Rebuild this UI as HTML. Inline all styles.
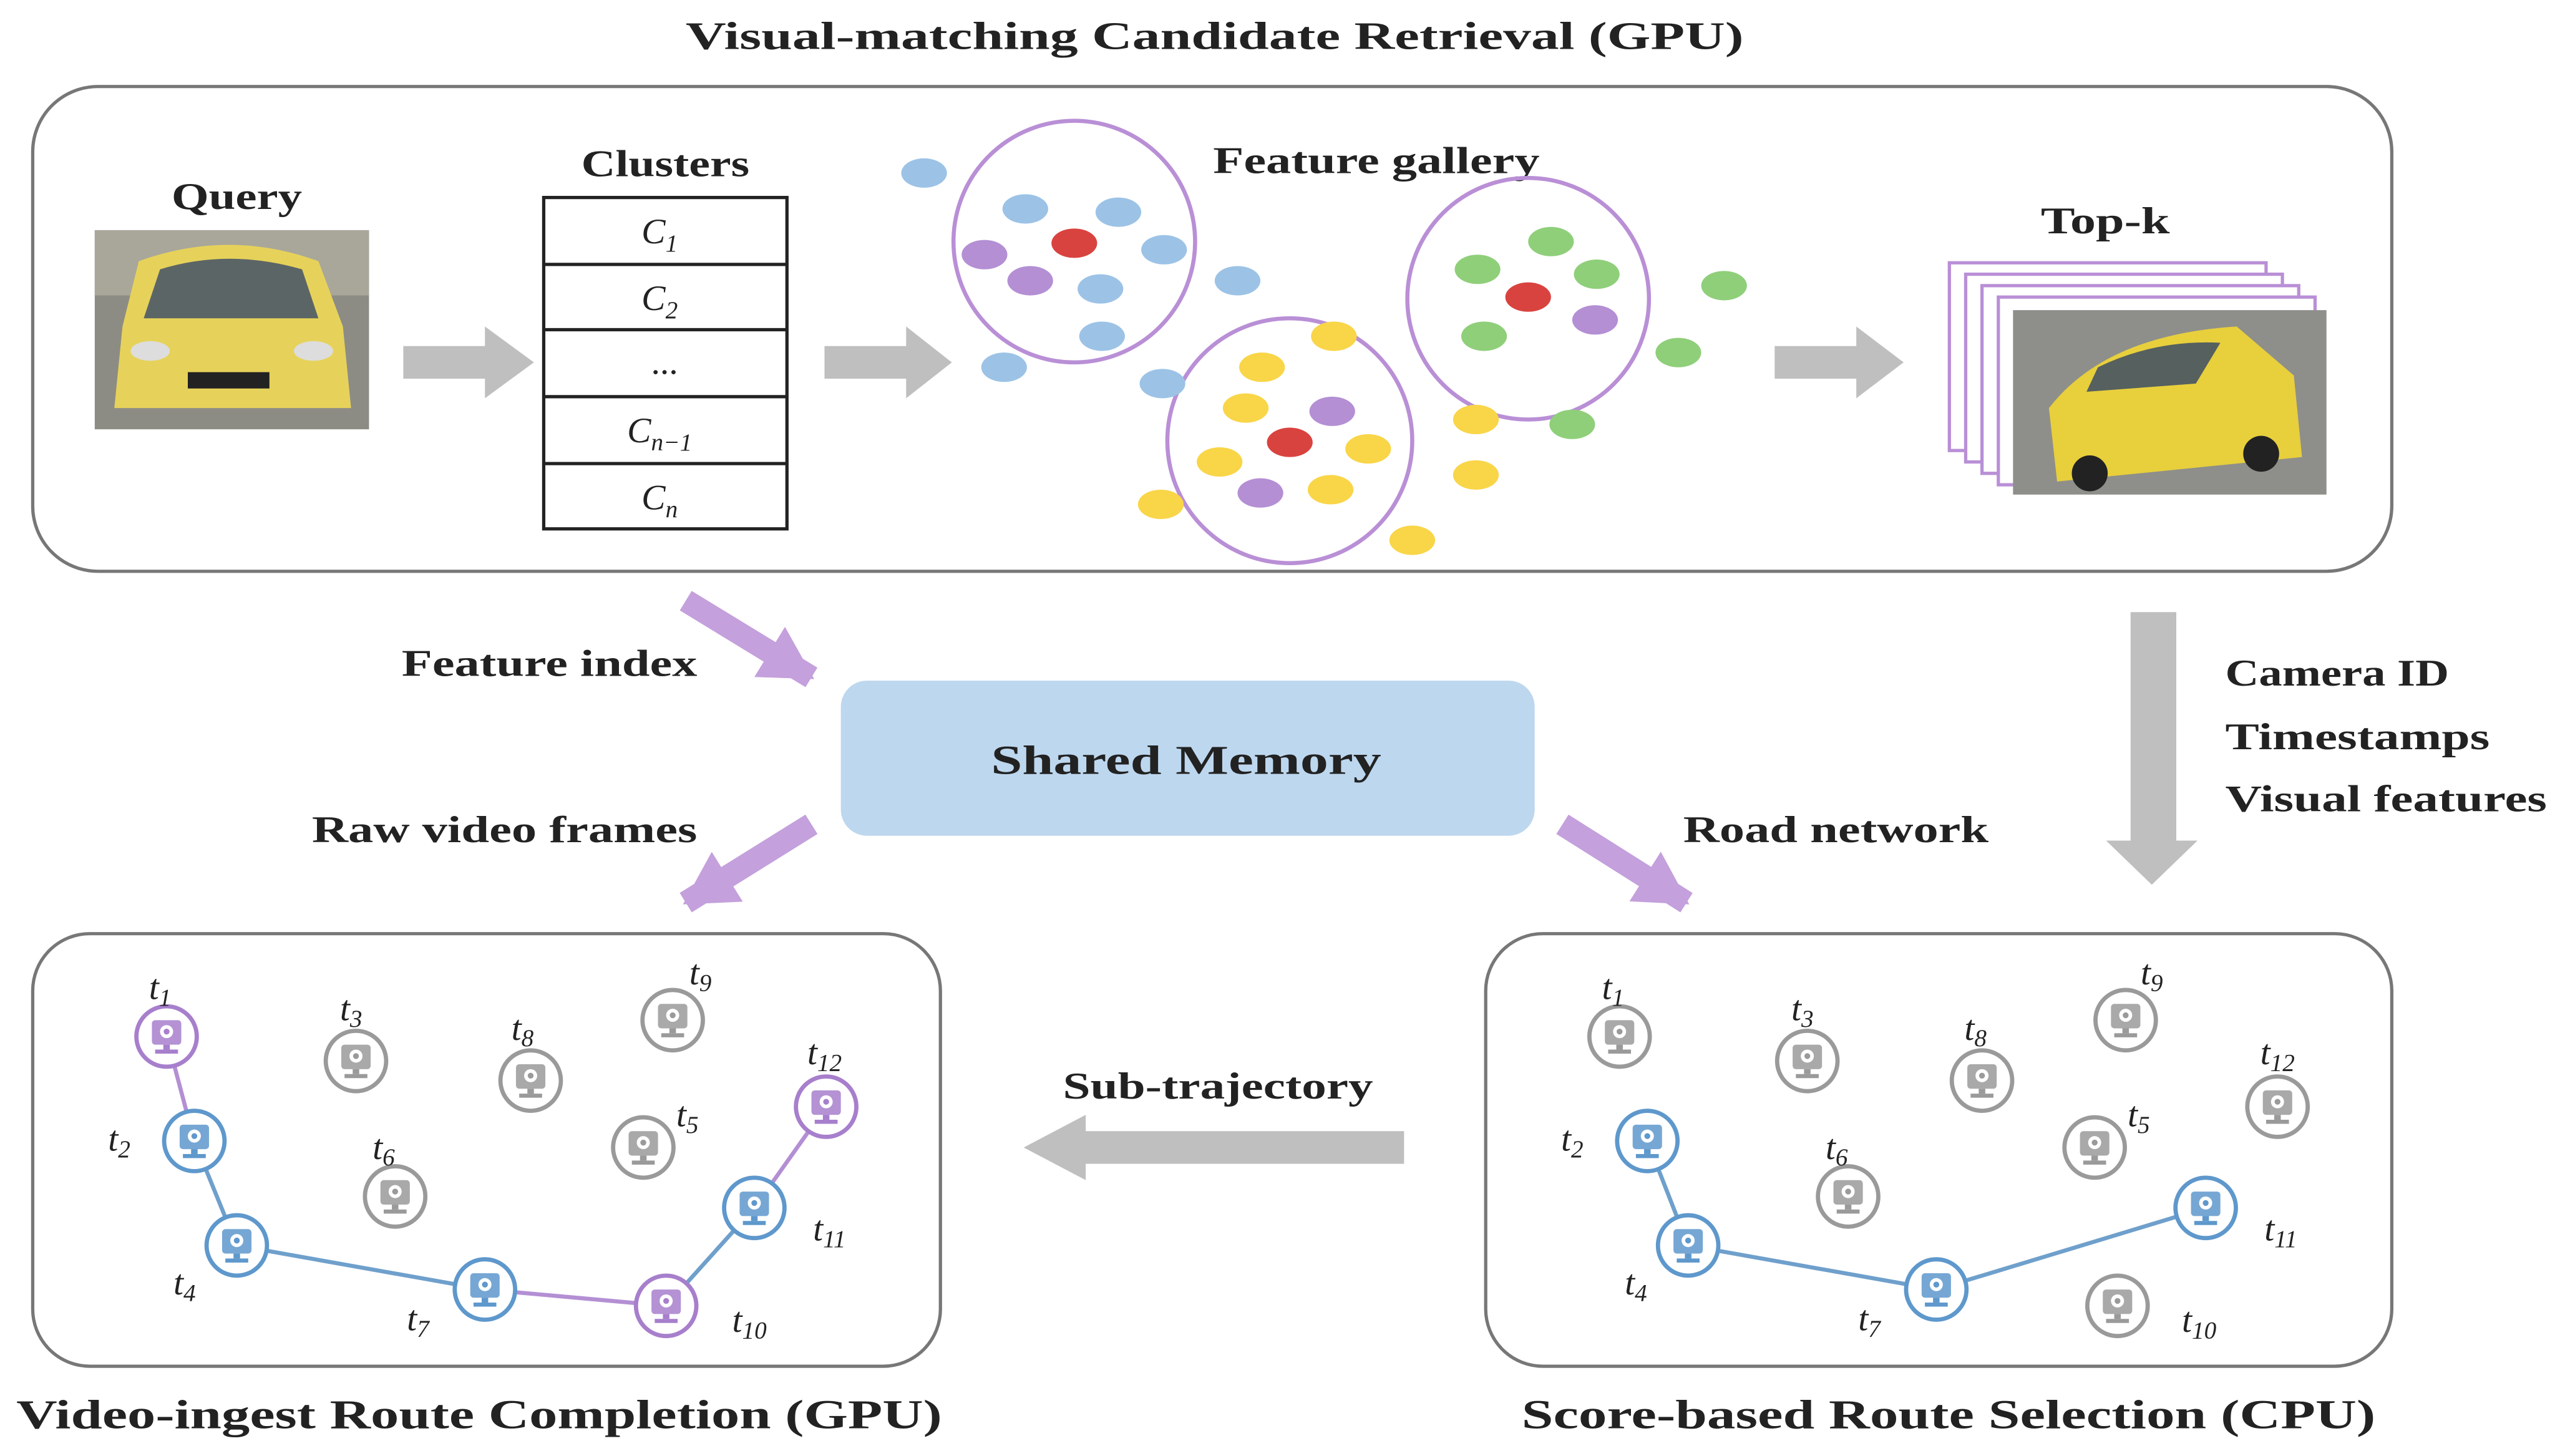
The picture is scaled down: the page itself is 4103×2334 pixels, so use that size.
<!DOCTYPE html>
<html><head><meta charset="utf-8"><style>
html,body{margin:0;padding:0;background:#fff;}
svg{display:block;}
text{font-family:"Liberation Serif",serif;}
.t{font-size:23px;font-weight:bold;fill:#222;}
.l{font-size:22px;font-style:italic;fill:#222;}
</style></head><body>
<svg width="4103" height="2334" viewBox="0 0 1568 892" xmlns="http://www.w3.org/2000/svg">
<defs>
<symbol id="cam" viewBox="-20 -20 40 40" overflow="visible">
<circle r="18.5" fill="#fff" stroke="currentColor" stroke-width="2.6"/>
<rect x="-9" y="-10" width="18" height="15" rx="2" fill="currentColor" opacity="0.85"/>
<circle cx="0" cy="-3" r="4" fill="#fff"/>
<circle cx="0" cy="-3" r="1.8" fill="currentColor"/>
<rect x="-2" y="5" width="4" height="3" fill="currentColor"/>
<rect x="-7" y="8" width="14" height="2.5" fill="currentColor"/>
</symbol>
<marker id="pa" markerUnits="userSpaceOnUse" markerWidth="40" markerHeight="40" refX="30" refY="20" orient="auto">
<path d="M0,2 L32,20 L0,38 Z" fill="#c4a0dc"/>
</marker>
</defs>

<text x="420" y="30" class="t" style="font-size:24px" textLength="648" lengthAdjust="spacingAndGlyphs">Visual-matching Candidate Retrieval (GPU)</text>
<rect x="20" y="53" width="1445" height="297" rx="40" fill="#fff" stroke="#777" stroke-width="2"/>

<text x="105" y="128" class="t" textLength="80" lengthAdjust="spacingAndGlyphs">Query</text>
<g>
<rect x="58" y="141" width="168" height="122" fill="#8d8c84"/>
<rect x="58" y="141" width="168" height="40" fill="#a9a79a"/>
<path d="M85,160 Q140,140 195,160 L210,200 L215,250 L70,250 L75,200 Z" fill="#e6d25a"/>
<path d="M98,165 Q140,152 185,165 L195,195 L88,195 Z" fill="#5c6566"/>
<rect x="115" y="228" width="50" height="10" fill="#222"/>
<ellipse cx="92" cy="215" rx="12" ry="6" fill="#ddd"/>
<ellipse cx="192" cy="215" rx="12" ry="6" fill="#ddd"/>
</g>

<polygon points="247,212 297,212 297,200 327,222 297,244 297,232 247,232" fill="#bfbfbf"/>

<text x="356" y="108" class="t" textLength="103" lengthAdjust="spacingAndGlyphs">Clusters</text>
<g fill="#fff" stroke="#222" stroke-width="2">
<rect x="333" y="121" width="149" height="203"/>
<line x1="333" y1="162" x2="482" y2="162"/>
<line x1="333" y1="202" x2="482" y2="202"/>
<line x1="333" y1="243" x2="482" y2="243"/>
<line x1="333" y1="284" x2="482" y2="284"/>
</g>
<g class="l" text-anchor="middle">
<text x="404" y="149">C<tspan font-size="15" dy="5">1</tspan></text>
<text x="404" y="190">C<tspan font-size="15" dy="5">2</tspan></text>
<text x="407" y="229" style="font-style:normal">...</text>
<text x="404" y="271">C<tspan font-size="15" dy="5">n−1</tspan></text>
<text x="404" y="312">C<tspan font-size="15" dy="5">n</tspan></text>
</g>

<polygon points="505,212 555,212 555,200 583,222 555,244 555,232 505,232" fill="#bfbfbf"/>

<text x="743" y="106" class="t" textLength="200" lengthAdjust="spacingAndGlyphs">Feature gallery</text>
<g fill="none" stroke="#b98fd6" stroke-width="2.5">
<circle cx="658" cy="148" r="74"/>
<circle cx="790" cy="270" r="75"/>
<circle cx="936" cy="183" r="74"/>
</g>
<g fill="#9cc3e6">
<ellipse cx="628" cy="128" rx="14" ry="9"/><ellipse cx="685" cy="130" rx="14" ry="9"/><ellipse cx="713" cy="153" rx="14" ry="9"/><ellipse cx="674" cy="177" rx="14" ry="9"/>
<ellipse cx="566" cy="106" rx="14" ry="9"/><ellipse cx="758" cy="172" rx="14" ry="9"/><ellipse cx="675" cy="206" rx="14" ry="9"/><ellipse cx="615" cy="225" rx="14" ry="9"/><ellipse cx="712" cy="235" rx="14" ry="9"/>
</g>
<g fill="#b48fd4">
<ellipse cx="603" cy="156" rx="14" ry="9"/><ellipse cx="631" cy="172" rx="14" ry="9"/>
<ellipse cx="816" cy="252" rx="14" ry="9"/><ellipse cx="772" cy="302" rx="14" ry="9"/><ellipse cx="977" cy="196" rx="14" ry="9"/>
</g>
<g fill="#d9433f">
<ellipse cx="658" cy="149" rx="14" ry="9"/><ellipse cx="790" cy="271" rx="14" ry="9"/><ellipse cx="936" cy="182" rx="14" ry="9"/>
</g>
<g fill="#f9d548">
<ellipse cx="773" cy="225" rx="14" ry="9"/><ellipse cx="763" cy="250" rx="14" ry="9"/><ellipse cx="838" cy="275" rx="14" ry="9"/><ellipse cx="747" cy="283" rx="14" ry="9"/><ellipse cx="815" cy="300" rx="14" ry="9"/>
<ellipse cx="817" cy="206" rx="14" ry="9"/><ellipse cx="711" cy="309" rx="14" ry="9"/><ellipse cx="865" cy="331" rx="14" ry="9"/><ellipse cx="904" cy="257" rx="14" ry="9"/><ellipse cx="904" cy="291" rx="14" ry="9"/>
</g>
<g fill="#8fcf7a">
<ellipse cx="905" cy="165" rx="14" ry="9"/><ellipse cx="950" cy="148" rx="14" ry="9"/><ellipse cx="978" cy="168" rx="14" ry="9"/><ellipse cx="909" cy="206" rx="14" ry="9"/>
<ellipse cx="1056" cy="175" rx="14" ry="9"/><ellipse cx="1028" cy="216" rx="14" ry="9"/><ellipse cx="963" cy="260" rx="14" ry="9"/>
</g>

<polygon points="1087,212 1137,212 1137,200 1166,222 1137,244 1137,232 1087,232" fill="#bfbfbf"/>

<text x="1250" y="143" class="t" textLength="79" lengthAdjust="spacingAndGlyphs">Top-k</text>
<g fill="#fff" stroke="#b98fd6" stroke-width="2">
<rect x="1194" y="161" width="194" height="115"/>
<rect x="1204" y="168" width="194" height="115"/>
<rect x="1214" y="175" width="194" height="115"/>
<rect x="1224" y="182" width="194" height="115"/>
</g>
<rect x="1233" y="190" width="192" height="113" fill="#8e8f8a"/>
<path d="M1255,250 Q1290,205 1370,200 L1405,230 L1410,280 L1260,295 Z" fill="#e8cf3c"/>
<path d="M1285,225 Q1320,208 1360,210 L1345,235 L1278,240 Z" fill="#55605f"/>
<circle cx="1280" cy="290" r="11" fill="#222"/><circle cx="1385" cy="278" r="11" fill="#222"/>

<line x1="420" y1="368" x2="497" y2="415" stroke="#c4a0dc" stroke-width="14" marker-end="url(#pa)"/>
<text x="246" y="414" class="t" textLength="181" lengthAdjust="spacingAndGlyphs">Feature index</text>

<polygon points="1305,375 1333,375 1333,515 1346,515 1318,542 1290,515 1305,515" fill="#bfbfbf"/>
<text x="1363" y="420" class="t" textLength="137" lengthAdjust="spacingAndGlyphs">Camera ID</text>
<text x="1363" y="459" class="t" textLength="162" lengthAdjust="spacingAndGlyphs">Timestamps</text>
<text x="1363" y="497" class="t" textLength="197" lengthAdjust="spacingAndGlyphs">Visual features</text>

<rect x="515" y="417" width="425" height="95" rx="16" fill="#bdd7ee"/>
<text x="607" y="474" class="t" style="font-size:25px" textLength="239" lengthAdjust="spacingAndGlyphs">Shared Memory</text>

<line x1="497" y1="505" x2="420" y2="553" stroke="#c4a0dc" stroke-width="14" marker-end="url(#pa)"/>
<text x="191" y="516" class="t" textLength="236" lengthAdjust="spacingAndGlyphs">Raw video frames</text>
<line x1="957" y1="505" x2="1033" y2="553" stroke="#c4a0dc" stroke-width="14" marker-end="url(#pa)"/>
<text x="1031" y="516" class="t" textLength="187" lengthAdjust="spacingAndGlyphs">Road network</text>

<rect x="20" y="572" width="556" height="265" rx="35" fill="#fff" stroke="#777" stroke-width="2"/>
<rect x="910" y="572" width="555" height="265" rx="35" fill="#fff" stroke="#777" stroke-width="2"/>
<text x="10" y="875" class="t" style="font-size:25px" textLength="567" lengthAdjust="spacingAndGlyphs">Video-ingest Route Completion (GPU)</text>
<text x="932" y="875" class="t" style="font-size:25px" textLength="523" lengthAdjust="spacingAndGlyphs">Score-based Route Selection (CPU)</text>

<text x="651" y="673" class="t" textLength="190" lengthAdjust="spacingAndGlyphs">Sub-trajectory</text>
<polygon points="860,693 665,693 665,683 627,703 665,723 665,713 860,713" fill="#bfbfbf"/>

<g stroke-width="2.5">
<line x1="102" y1="635" x2="119" y2="699" stroke="#b48fd4"/>
<line x1="119" y1="699" x2="145" y2="763" stroke="#6fa0cc"/>
<line x1="145" y1="763" x2="297" y2="790" stroke="#6fa0cc"/>
<line x1="297" y1="790" x2="408" y2="800" stroke="#b48fd4"/>
<line x1="408" y1="800" x2="462" y2="740" stroke="#6fa0cc"/>
<line x1="462" y1="740" x2="506" y2="678" stroke="#b48fd4"/>
</g>
<g>
<use href="#cam" x="82" y="615" width="40" height="40" style="color:#a77fcc"/>
<use href="#cam" x="198" y="630" width="40" height="40" style="color:#9a9a9a"/>
<use href="#cam" x="305" y="642" width="40" height="40" style="color:#9a9a9a"/>
<use href="#cam" x="392" y="605" width="40" height="40" style="color:#9a9a9a"/>
<use href="#cam" x="486" y="658" width="40" height="40" style="color:#a77fcc"/>
<use href="#cam" x="99" y="679" width="40" height="40" style="color:#5e98cc"/>
<use href="#cam" x="222" y="713" width="40" height="40" style="color:#9a9a9a"/>
<use href="#cam" x="374" y="683" width="40" height="40" style="color:#9a9a9a"/>
<use href="#cam" x="442" y="720" width="40" height="40" style="color:#5e98cc"/>
<use href="#cam" x="125" y="743" width="40" height="40" style="color:#5e98cc"/>
<use href="#cam" x="277" y="770" width="40" height="40" style="color:#5e98cc"/>
<use href="#cam" x="388" y="780" width="40" height="40" style="color:#a77fcc"/>
</g>
<g class="l" text-anchor="middle">
<text x="98" y="612">t<tspan font-size="15" dy="4">1</tspan></text>
<text x="215" y="625">t<tspan font-size="15" dy="4">3</tspan></text>
<text x="320" y="637">t<tspan font-size="15" dy="4">8</tspan></text>
<text x="429" y="603">t<tspan font-size="15" dy="4">9</tspan></text>
<text x="505" y="652">t<tspan font-size="15" dy="4">12</tspan></text>
<text x="73" y="705">t<tspan font-size="15" dy="4">2</tspan></text>
<text x="235" y="710">t<tspan font-size="15" dy="4">6</tspan></text>
<text x="421" y="690">t<tspan font-size="15" dy="4">5</tspan></text>
<text x="508" y="760">t<tspan font-size="15" dy="4">11</tspan></text>
<text x="113" y="793">t<tspan font-size="15" dy="4">4</tspan></text>
<text x="256" y="815">t<tspan font-size="15" dy="4">7</tspan></text>
<text x="459" y="816">t<tspan font-size="15" dy="4">10</tspan></text>
</g>

<g stroke-width="2.5" stroke="#6fa0cc">
<line x1="1009" y1="699" x2="1034" y2="763"/>
<line x1="1034" y1="763" x2="1186" y2="790"/>
<line x1="1186" y1="790" x2="1351" y2="740"/>
</g>
<g>
<use href="#cam" x="972" y="615" width="40" height="40" style="color:#9a9a9a"/>
<use href="#cam" x="1087" y="630" width="40" height="40" style="color:#9a9a9a"/>
<use href="#cam" x="1194" y="642" width="40" height="40" style="color:#9a9a9a"/>
<use href="#cam" x="1282" y="605" width="40" height="40" style="color:#9a9a9a"/>
<use href="#cam" x="1375" y="658" width="40" height="40" style="color:#9a9a9a"/>
<use href="#cam" x="989" y="679" width="40" height="40" style="color:#5e98cc"/>
<use href="#cam" x="1112" y="713" width="40" height="40" style="color:#9a9a9a"/>
<use href="#cam" x="1263" y="683" width="40" height="40" style="color:#9a9a9a"/>
<use href="#cam" x="1331" y="720" width="40" height="40" style="color:#5e98cc"/>
<use href="#cam" x="1014" y="743" width="40" height="40" style="color:#5e98cc"/>
<use href="#cam" x="1166" y="770" width="40" height="40" style="color:#5e98cc"/>
<use href="#cam" x="1277" y="780" width="40" height="40" style="color:#9a9a9a"/>
</g>
<g class="l" text-anchor="middle">
<text x="988" y="612">t<tspan font-size="15" dy="4">1</tspan></text>
<text x="1104" y="625">t<tspan font-size="15" dy="4">3</tspan></text>
<text x="1210" y="637">t<tspan font-size="15" dy="4">8</tspan></text>
<text x="1318" y="603">t<tspan font-size="15" dy="4">9</tspan></text>
<text x="1395" y="652">t<tspan font-size="15" dy="4">12</tspan></text>
<text x="963" y="705">t<tspan font-size="15" dy="4">2</tspan></text>
<text x="1125" y="710">t<tspan font-size="15" dy="4">6</tspan></text>
<text x="1310" y="690">t<tspan font-size="15" dy="4">5</tspan></text>
<text x="1397" y="760">t<tspan font-size="15" dy="4">11</tspan></text>
<text x="1002" y="793">t<tspan font-size="15" dy="4">4</tspan></text>
<text x="1145" y="815">t<tspan font-size="15" dy="4">7</tspan></text>
<text x="1347" y="816">t<tspan font-size="15" dy="4">10</tspan></text>
</g>
</svg>
</body></html>
